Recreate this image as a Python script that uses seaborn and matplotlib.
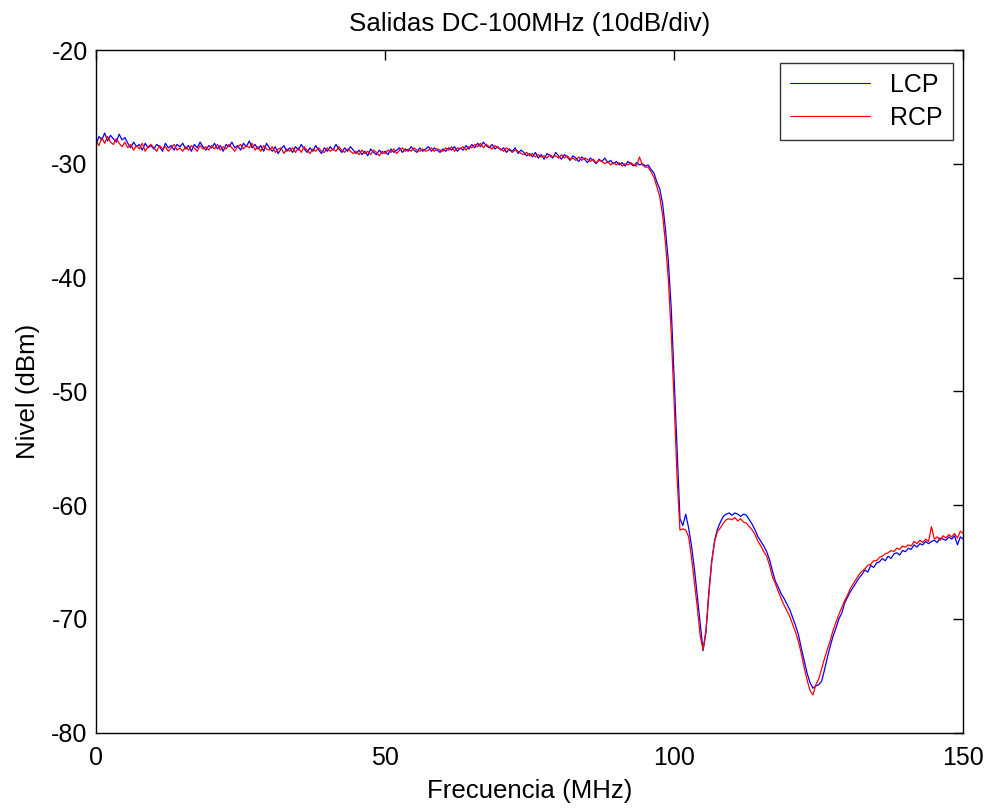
import numpy as np
import pandas as pd
import matplotlib
matplotlib.use("Agg")
import matplotlib.pyplot as plt
import seaborn as sns

title = "Salidas DC-100MHz (10dB/div)"
xlabel = "Frecuencia (MHz)"
ylabel = "Nivel (dBm)"
series_names = ["LCP", "RCP"]
series_colors = ["#0000ff", "#ff0000"]
x_ticks = [0, 50, 100, 150]
y_ticks = [-80, -70, -60, -50, -40, -30, -20]

# frequency grid, 0.5 MHz spacing (0 .. 150 MHz)
freq = np.linspace(0, 150, 301)

lcp = [
    -28.3, -27.6, -27.9, -27.3, -28.0, -27.5, -27.8, -28.1, -27.4, -27.9,
    -27.7, -28.2, -28.6, -28.1, -28.5, -28.3, -28.8, -28.2, -28.6, -28.4,
    -28.7, -28.3, -28.5, -28.9, -28.2, -28.6, -28.4, -28.8, -28.3, -28.5,
    -28.2, -28.7, -28.4, -28.9, -28.3, -28.6, -28.1, -28.5, -28.8, -28.4,
    -28.6, -28.2, -28.7, -28.4, -28.9, -28.3, -28.5, -28.1, -28.6, -28.4,
    -28.8, -28.2, -28.5, -28.0, -28.6, -28.3, -28.7, -28.4, -28.9, -28.2,
    -28.6, -28.9, -28.5, -29.1, -28.7, -28.4, -28.9, -28.6, -29.0, -28.5,
    -28.8, -28.3, -28.7, -29.0, -28.6, -28.9, -28.4, -28.8, -29.1, -28.6,
    -28.9, -28.5, -28.8, -28.3, -28.7, -29.0, -28.6, -28.9, -28.5, -28.8,
    -29.1, -28.8, -29.2, -28.9, -29.3, -28.7, -29.0, -29.2, -28.8, -29.1,
    -28.9, -29.2, -28.7, -29.0, -28.8, -28.6, -29.0, -28.7, -28.9, -28.5,
    -28.8, -29.0, -28.6, -28.9, -28.7, -28.5, -28.9, -28.6, -28.8, -29.0,
    -28.7, -28.9, -28.6, -28.8, -28.5, -28.9, -28.6, -28.8, -28.4, -28.7,
    -28.3, -28.6, -28.2, -28.5, -28.1, -28.4, -28.6, -28.3, -28.7, -28.5,
    -28.8, -28.6, -29.0, -28.7, -28.9, -28.6, -29.1, -28.8, -29.0, -29.3,
    -29.1, -29.4, -29.0, -29.5, -29.2, -29.6, -29.1, -29.3, -29.5, -29.0,
    -29.3, -29.6, -29.2, -29.4, -29.7, -29.3, -29.5, -29.8, -29.4, -29.6,
    -29.9, -29.5, -29.7, -30.0, -29.6, -29.8, -29.5, -29.9, -29.7, -30.0,
    -29.8, -30.1, -29.9, -30.2, -29.8, -30.0, -30.2, -29.9, -30.1, -30.0,
    -30.2, -30.1, -30.5, -30.8, -31.6, -32.2, -33.5, -35.8, -38.6, -42.8,
    -48.8, -55.0, -61.2, -61.8, -60.8, -62.0, -63.6, -65.6, -68.0, -70.4,
    -72.8, -71.2, -67.6, -64.9, -63.1, -62.1, -61.5, -61.0, -60.8, -60.7,
    -60.9, -60.7, -60.8, -61.0, -60.8, -60.9, -61.3, -61.7, -62.2, -62.8,
    -63.2, -63.6, -64.1, -64.8, -65.8, -66.7, -67.2, -67.8, -68.2, -68.7,
    -69.2, -69.9, -70.6, -71.4, -72.6, -73.7, -74.8, -75.6, -76.1, -75.9,
    -75.8, -75.5, -74.5, -73.4, -72.4, -71.5, -70.8, -70.0, -69.5, -68.6,
    -68.1, -67.6, -67.2, -66.8, -66.4, -66.1, -65.7, -65.9, -65.3, -65.5,
    -65.1, -65.0, -64.7, -64.9, -64.5, -64.7, -64.3, -64.2, -64.4, -64.0,
    -64.1, -63.8, -63.9, -63.5, -63.7, -63.4, -63.5, -63.2, -63.4, -63.2,
    -63.1, -63.3, -62.9, -63.0, -63.1, -62.8, -63.0, -62.7, -63.5, -62.8,
    -63.0,
]

rcp = [
    -28.0, -28.4, -27.7, -28.2, -27.6, -28.1, -28.3, -27.8, -28.2, -28.5,
    -28.1, -28.6, -28.3, -28.8, -28.4, -28.7, -28.2, -28.9, -28.5, -28.3,
    -28.6, -28.9, -28.4, -28.7, -28.5, -28.9, -28.6, -28.3, -28.8, -28.6,
    -28.9, -28.5, -28.8, -28.4, -28.6, -28.9, -28.4, -28.7, -28.5, -28.8,
    -28.4, -28.7, -28.3, -28.8, -28.5, -28.7, -28.3, -28.6, -28.9, -28.5,
    -28.3, -28.7, -28.4, -28.6, -28.2, -28.8, -28.5, -28.9, -28.4, -28.7,
    -28.8, -28.5, -29.0, -28.7, -28.6, -29.1, -28.7, -28.9, -28.6, -29.0,
    -28.6, -29.0, -28.5, -28.8, -29.1, -28.7, -28.9, -28.6, -28.9, -29.0,
    -28.6, -28.9, -28.7, -28.9, -28.5, -28.8, -29.0, -28.7, -28.9, -29.1,
    -28.9, -29.2, -28.8, -29.1, -28.9, -29.2, -28.8, -29.0, -29.3, -28.9,
    -29.1, -28.8, -29.0, -28.7, -29.1, -28.8, -28.6, -28.9, -28.7, -28.9,
    -28.6, -28.8, -28.9, -28.7, -28.9, -28.8, -28.6, -28.9, -28.7, -28.8,
    -28.9, -28.6, -28.8, -28.5, -28.9, -28.6, -28.7, -28.5, -28.8, -28.5,
    -28.6, -28.3, -28.5, -28.2, -28.6, -28.3, -28.5, -28.7, -28.4, -28.6,
    -28.7, -28.9, -28.6, -28.8, -29.0, -28.8, -28.9, -29.1, -29.2, -29.0,
    -29.3, -29.1, -29.4, -29.2, -29.4, -29.3, -29.5, -29.2, -29.4, -29.3,
    -29.5, -29.2, -29.5, -29.3, -29.6, -29.5, -29.7, -29.4, -29.7, -29.5,
    -29.6, -29.8, -29.6, -29.9, -29.7, -29.8, -30.0, -29.8, -30.1, -29.9,
    -30.1, -29.9, -30.2, -30.0, -30.1, -29.9, -30.1, -30.2, -29.4, -30.1,
    -30.3, -30.3, -30.7, -31.2, -32.0, -32.9, -34.5, -37.0, -40.2, -45.0,
    -51.0, -57.5, -62.2, -62.1, -62.2, -62.8, -64.6, -66.8, -69.0, -71.5,
    -72.7, -71.0, -67.9, -65.0, -63.2, -62.3, -62.0, -61.6, -61.3, -61.2,
    -61.3, -61.1, -61.4, -61.2, -61.5, -61.6, -61.9, -62.2, -62.6, -63.2,
    -63.6, -64.1, -64.5, -65.3, -66.3, -66.9, -67.6, -68.2, -68.8, -69.3,
    -69.8, -70.5, -71.2, -72.0, -73.1, -74.3, -75.4, -76.3, -76.7, -75.8,
    -75.3, -74.4, -73.5, -72.7, -71.9, -71.0, -70.3, -69.6, -69.0, -68.4,
    -67.9, -67.3, -66.9, -66.5, -66.1, -65.8, -65.6, -65.3, -65.2, -64.9,
    -64.9, -64.6, -64.5, -64.3, -64.2, -64.0, -64.1, -63.8, -63.9, -63.6,
    -63.7, -63.5, -63.6, -63.2, -63.4, -63.1, -63.3, -63.0, -63.2, -61.9,
    -63.0, -62.8, -63.1, -62.7, -62.9, -62.6, -62.8, -62.5, -62.9, -62.3,
    -62.5,
]

df = pd.DataFrame({
    "freq": np.concatenate([freq, freq]),
    "level": np.concatenate([lcp, rcp]),
    "serie": [series_names[0]] * len(freq) + [series_names[1]] * len(freq),
})

sns.set_theme(style="white")
plt.rcParams["font.family"] = ["Liberation Sans", "DejaVu Sans"]
plt.rcParams["text.color"] = "black"
plt.rcParams["axes.labelcolor"] = "black"
plt.rcParams["xtick.color"] = "black"
plt.rcParams["ytick.color"] = "black"

fig = plt.figure(figsize=(9.92, 8.08), dpi=100)
ax = fig.add_axes([0.0968, 0.0934, 0.8742, 0.8447])

sns.lineplot(data=df, x="freq", y="level", hue="serie",
             palette=dict(zip(series_names, series_colors)),
             estimator=None, sort=False, linewidth=0.9, ax=ax)

ax.set_xlim(0, 150)
ax.set_ylim(-80, -20)
ax.set_xticks(x_ticks)
ax.set_yticks(y_ticks)
ax.set_xticklabels([str(t) for t in x_ticks])
ax.set_yticklabels([str(t) for t in y_ticks])
ax.tick_params(direction="in", length=7, width=1, colors="black",
               labelsize=18, top=True, right=True)
ax.tick_params(axis="y", pad=6)
ax.tick_params(axis="x", pad=9.5)
for s in ax.spines.values():
    s.set_color("black")
    s.set_linewidth(1.0)
    s.set_visible(True)

ax.set_title(title, fontsize=18.7, color="black", pad=13.5)
ax.set_xlabel(xlabel, fontsize=18.6, color="black", labelpad=6.5)
ax.set_ylabel(ylabel, fontsize=18.6, color="black", labelpad=8)

leg = ax.legend(loc="upper right", bbox_to_anchor=(0.988, 0.981),
                fontsize=18, frameon=True, fancybox=False, handlelength=3.2,
                handletextpad=0.8, labelspacing=0.35, borderpad=0.4,
                borderaxespad=0)
leg.get_frame().set_edgecolor("black")
leg.get_frame().set_linewidth(1.0)
for t in leg.get_texts():
    t.set_color("black")
for line in leg.get_lines():
    line.set_linewidth(0.8)

fig.savefig("out.png", dpi=100)
